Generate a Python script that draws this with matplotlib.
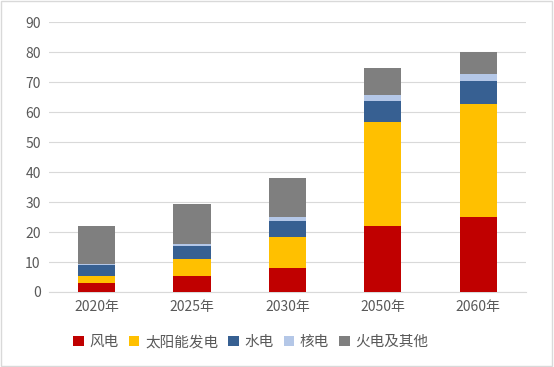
import matplotlib
matplotlib.use("Agg")
import matplotlib.pyplot as plt
import numpy as np

plt.rcParams['font.family'] = ['Noto Sans CJK SC', 'DejaVu Sans']

# data
years = ['2020年', '2025年', '2030年', '2050年', '2060年']
wind = [3.0, 5.4, 8.0, 22.1, 25.0]
solar = [2.4, 5.7, 10.3, 34.5, 37.8]
hydro = [3.5, 4.3, 5.4, 7.2, 7.5]
nuclear = [0.5, 0.7, 1.2, 1.8, 2.6]
thermal = [12.6, 13.2, 13.1, 9.2, 7.2]

names = ['风电', '太阳能发电', '水电', '核电', '火电及其他']
colors = ['#C00000', '#FFC000', '#376092', '#B4C7E7', '#7F7F7F']
series = [wind, solar, hydro, nuclear, thermal]

fig = plt.figure(figsize=(5.54, 3.67), dpi=100)
ax = fig.add_axes([0.0884, 0.2044, 0.861, 0.7346])

x = np.arange(len(years))
bottom = np.zeros(len(years))
for vals, name, c in zip(series, names, colors):
    ax.bar(x, vals, 0.39, bottom=bottom, color=c, label=name, zorder=3)
    bottom += np.array(vals)

ax.set_ylim(0, 90)
ax.set_xlim(-0.5, len(years) - 0.5)
ax.set_yticks(range(0, 91, 10))
ax.set_xticks(x)
ax.set_xticklabels(years)
ax.grid(axis='y', color='#D9D9D9', linewidth=0.8, zorder=0)
for s in ['top', 'right', 'left']:
    ax.spines[s].set_visible(False)
ax.spines['bottom'].set_color('#D9D9D9')
ax.tick_params(length=0, labelsize=10, colors='#595959', pad=6)
ax.tick_params(axis='x', pad=6)

fig.legend(loc='center', bbox_to_anchor=(0.453, 0.068), ncol=5, frameon=False,
           fontsize=10.5, handlelength=0.7, handleheight=0.7, handletextpad=0.4,
           columnspacing=0.7, labelcolor='#595959')

fig.patches.append(plt.Rectangle((0.002, 0.003), 0.995, 0.993, transform=fig.transFigure,
                                 fill=False, edgecolor='#D9D9D9', linewidth=1))

fig.savefig('out.png', dpi=100)
